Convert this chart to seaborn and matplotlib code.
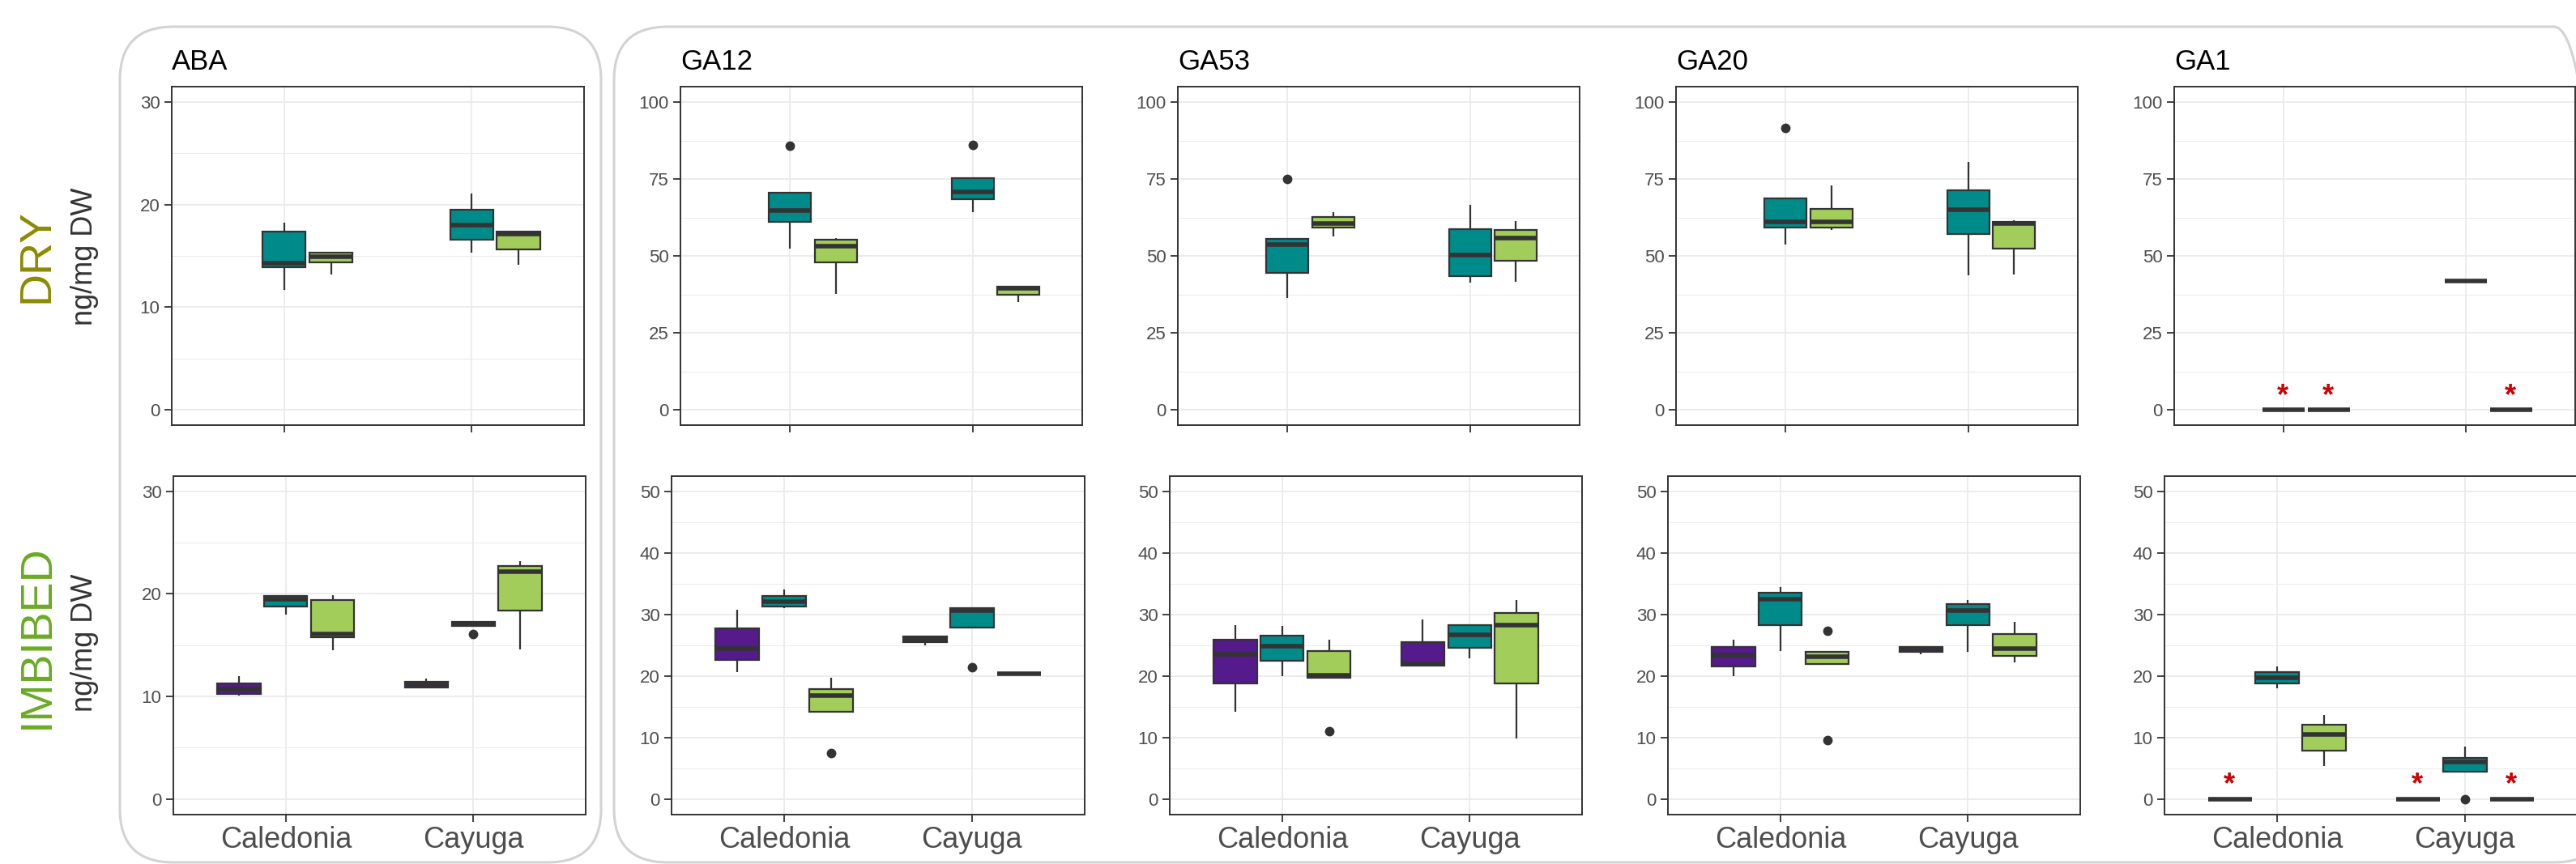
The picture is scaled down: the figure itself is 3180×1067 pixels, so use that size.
import pandas as pd
import matplotlib.pyplot as plt
import matplotlib.transforms as mtransforms
import seaborn as sns
from matplotlib.patches import FancyBboxPatch
from matplotlib.ticker import MultipleLocator

cultivars = ['Caledonia', 'Cayuga']
groups = ['G1', 'G2', 'G3']
group_colors = ['#551A8B', '#008B8B', '#A2CD5A']
hormones = ['ABA', 'GA12', 'GA53', 'GA20', 'GA1']

# each list: Caledonia G1, G2, G3, then Cayuga G1, G2, G3 (None = not in this stage)
aba_dry = [None, [11.7, 13.9, 14.3, 17.4, 18.2], [13.2, 14.4, 14.9, 15.3, 15.3],
           None, [15.3, 16.6, 18.0, 19.5, 21.1], [14.1, 15.6, 17.1, 17.35, 17.4]]
aba_imb = [[10.1, 10.25, 10.7, 11.3, 12.0], [18.0, 18.8, 19.5, 19.8, 19.8], [14.5, 15.8, 16.1, 19.4, 19.9],
           [10.8, 10.9, 11.2, 11.45, 11.75], [16.1, 16.9, 17.1, 17.3, 17.3], [14.6, 18.35, 22.15, 22.7, 23.2]]
ga12_dry = [None, [52.5, 61.0, 64.7, 70.5, 85.7], [37.6, 48.0, 53.2, 55.2, 55.9],
            None, [64.3, 68.4, 70.7, 75.2, 86.0], [34.9, 37.3, 39.6, 40.1, 40.1]]
ga12_imb = [[20.6, 22.6, 24.5, 27.75, 30.7], [31.05, 31.3, 32.1, 32.95, 34.05], [7.5, 14.1, 16.75, 17.85, 19.7],
            [25.0, 25.55, 25.9, 26.4, 26.4], [21.4, 27.9, 30.6, 31.0, 31.0], [20.3, 20.3, 20.3, 20.3, 20.3]]
ga53_dry = [None, [36.2, 44.4, 53.8, 55.5, 75.1], [56.3, 59.3, 60.4, 62.6, 64.3],
            None, [41.2, 43.4, 50.2, 58.8, 66.5], [41.6, 48.5, 55.7, 58.4, 61.3]]
ga53_imb = [[14.2, 18.8, 23.5, 25.9, 28.3], [20.0, 22.4, 24.9, 26.6, 28.1], [11.0, 19.7, 20.1, 24.1, 25.9],
            [21.7, 21.7, 22.0, 25.55, 29.2], [22.8, 24.6, 26.7, 28.2, 28.2], [9.8, 18.8, 28.2, 30.2, 32.3]]
ga20_dry = [None, [53.8, 59.3, 61.1, 68.8, 91.6], [58.4, 59.3, 61.1, 65.3, 72.8],
            None, [43.7, 57.0, 64.9, 71.4, 80.5], [43.9, 52.3, 60.5, 61.0, 61.5]]
ga20_imb = [[19.9, 21.6, 23.4, 24.7, 25.9], [24.1, 28.3, 32.5, 33.5, 34.45], [9.6, 21.9, 23.1, 23.9, 27.4],
            [23.5, 23.9, 24.4, 24.75, 24.75], [23.9, 28.3, 30.6, 31.7, 32.3], [22.25, 23.3, 24.5, 26.8, 28.85]]
ga1_dry = [None, [0.0, 0.0, 0.0, 0.0, 0.0], [0.0, 0.0, 0.0, 0.0, 0.0],
           None, [41.9, 41.9, 41.9, 41.9, 41.9], [0.0, 0.0, 0.0, 0.0, 0.0]]
ga1_imb = [[0.0, 0.0, 0.0, 0.0, 0.0], [18.0, 18.8, 19.7, 20.6, 21.5], [5.4, 7.9, 10.5, 12.1, 13.65],
           [0.0, 0.0, 0.0, 0.0, 0.0], [0.0, 4.4, 5.95, 6.7, 8.45], [0.0, 0.0, 0.0, 0.0, 0.0]]

dry_data = [aba_dry, ga12_dry, ga53_dry, ga20_dry, ga1_dry]
imb_data = [aba_imb, ga12_imb, ga53_imb, ga20_imb, ga1_imb]

W, H = 3180, 1067
sns.set_style('white')
plt.rcParams['font.family'] = ['Liberation Sans', 'DejaVu Sans']

fig = plt.figure(figsize=(W / 100, H / 100), dpi=100, facecolor='white')
pix = mtransforms.Affine2D().scale(1 / W, 1 / H) + fig.transFigure

# rounded frames around ABA and the GA panels
for x0, x1 in [(148, 742), (758, 3219)]:
    fig.patches.append(FancyBboxPatch((x0, H - 1065), x1 - x0, 1065 - 33,
                                      boxstyle='round,pad=0,rounding_size=66',
                                      transform=pix, facecolor='none',
                                      edgecolor='#D3D3D3', linewidth=2.2))

# panel boxes in pixels (left, right); rows (top, bottom)
dry_x = [(212, 721), (840, 1336), (1454, 1950), (2069, 2565), (2684, 3179)]
imb_x = [(214, 723), (829, 1339), (1444, 1953), (2059, 2568), (2672, 3182)]
dry_y = (107, 525)
imb_y = (588, 1005.5)


def add_ax(xs, ys):
    x0, x1 = xs
    y0, y1 = ys
    return fig.add_axes([x0 / W, (H - y1) / H, (x1 - x0) / W, (y1 - y0) / H])


def draw_panel(ax, values, top, step, show_labels):
    rows = []
    for i, vals in enumerate(values):
        if vals is None:
            continue
        for v in vals:
            rows.append((cultivars[i // 3], groups[i % 3], v))
    df = pd.DataFrame(rows, columns=['cultivar', 'group', 'value'])
    sns.boxplot(data=df, x='cultivar', y='value', hue='group', order=cultivars,
                hue_order=groups, palette=dict(zip(groups, group_colors)),
                saturation=1, width=0.75, gap=0.08, dodge=True,
                linecolor='#333333', linewidth=1.6, fliersize=7.5,
                flierprops=dict(marker='o', markerfacecolor='#333333',
                                markeredgecolor='#333333'),
                medianprops=dict(linewidth=4), showcaps=False,
                legend=False, ax=ax)
    # red star over groups that were not detected
    for i, vals in enumerate(values):
        if vals is not None and max(vals) == 0:
            xpos = i // 3 + (i % 3 - 1) * 0.25
            ax.annotate('*', xy=(xpos, 0), xytext=(-1, 5), textcoords='offset points',
                        ha='center', va='baseline', color='#CC0000',
                        fontsize=26, fontweight='bold', zorder=5)
    ax.set_xlim(-0.6, 1.6)
    ax.set_ylim(-top * 0.05, top * 1.05)
    ax.yaxis.set_major_locator(MultipleLocator(step))
    ax.yaxis.set_minor_locator(MultipleLocator(step / 2))
    ax.set_axisbelow(True)
    ax.grid(True, which='major', color='#EBEBEB', linewidth=1.3)
    ax.yaxis.grid(True, which='minor', color='#EBEBEB', linewidth=0.7)
    ax.set_xlabel('')
    ax.set_ylabel('')
    for s in ax.spines.values():
        s.set_visible(True)
        s.set_color('#333333')
        s.set_linewidth(1.4)
    ax.tick_params(which='major', bottom=True, left=True, length=6.5, width=1.3,
                   color='#333333', labelcolor='#4D4D4D', pad=4)
    ax.tick_params(which='minor', length=0)
    ax.tick_params(axis='y', labelsize=16)
    ax.tick_params(axis='x', labelsize=26)
    if not show_labels:
        ax.set_xticklabels([])


for k, name in enumerate(hormones):
    ax_d = add_ax(dry_x[k], dry_y)
    draw_panel(ax_d, dry_data[k], 30 if name == 'ABA' else 100,
               10 if name == 'ABA' else 25, False)
    fig.text(dry_x[k][0] / W, (H - 86) / H, name, ha='left', va='baseline',
             fontsize=25, color='black')
    ax_i = add_ax(imb_x[k], imb_y)
    draw_panel(ax_i, imb_data[k], 30 if name == 'ABA' else 50, 10, True)

# row labels
fig.text(46 / W, (H - 316) / H, 'DRY', rotation=90, ha='center', va='center',
         fontsize=40, color='#8B8B00')
fig.text(105 / W, (H - 317) / H, 'ng/mg DW', rotation=90, ha='center', va='center',
         fontsize=26, color='#333333')
fig.text(46 / W, (H - 786) / H, 'IMBIBED', rotation=90, ha='center', va='center',
         fontsize=40, color='#6AAB24')
fig.text(105 / W, (H - 794) / H, 'ng/mg DW', rotation=90, ha='center', va='center',
         fontsize=26, color='#333333')

fig.savefig('out.png', dpi=100, facecolor='white')
